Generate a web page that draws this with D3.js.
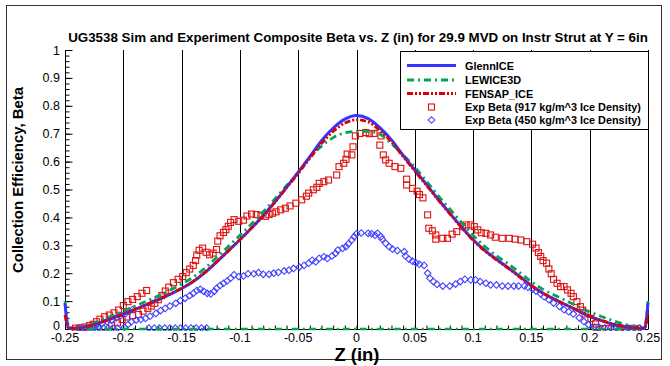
<!DOCTYPE html>
<html>
<head>
<meta charset="utf-8">
<script src="https://cdn.jsdelivr.net/npm/d3@7"></script>
<style>
  html, body { margin: 0; padding: 0; background: #fff; }
  svg { display: block; font-family: "Liberation Sans", Arial, Helvetica, sans-serif; }
</style>
</head>
<body>
<svg id="chart" width="670" height="366"></svg>
<script>
// Simulation grid (Z, inches) shared by the three sim curves
const simZ = [-0.25, -0.247, -0.24, -0.23, -0.22, -0.21, -0.2, -0.19, -0.18, -0.17, -0.16, -0.15, -0.14, -0.13, -0.12, -0.11, -0.1, -0.09, -0.08, -0.07, -0.06, -0.05, -0.04, -0.03, -0.02, -0.01, 0, 0.01, 0.02, 0.03, 0.04, 0.05, 0.06, 0.07, 0.08, 0.09, 0.1, 0.11, 0.12, 0.13, 0.14, 0.15, 0.16, 0.17, 0.18, 0.19, 0.2, 0.21, 0.22, 0.23, 0.24, 0.247, 0.25];

const glennBeta = [0.092, 0.003, 0.003, 0.010, 0.022, 0.037, 0.053, 0.070, 0.087, 0.105, 0.124, 0.145, 0.170, 0.202, 0.240, 0.280, 0.320, 0.362, 0.406, 0.455, 0.508, 0.562, 0.618, 0.675, 0.720, 0.752, 0.765, 0.754, 0.722, 0.678, 0.622, 0.570, 0.518, 0.465, 0.415, 0.366, 0.320, 0.282, 0.250, 0.220, 0.188, 0.156, 0.128, 0.106, 0.086, 0.065, 0.045, 0.030, 0.017, 0.008, 0.003, 0.002, 0.094];

const lewiceBeta = [0.100, 0.005, 0.005, 0.014, 0.029, 0.046, 0.064, 0.082, 0.100, 0.119, 0.139, 0.161, 0.186, 0.218, 0.256, 0.296, 0.336, 0.377, 0.420, 0.466, 0.514, 0.560, 0.615, 0.655, 0.686, 0.703, 0.708, 0.708, 0.698, 0.664, 0.624, 0.580, 0.530, 0.478, 0.430, 0.382, 0.336, 0.296, 0.263, 0.234, 0.202, 0.170, 0.142, 0.121, 0.101, 0.081, 0.062, 0.045, 0.030, 0.017, 0.008, 0.004, 0.100];

// LEWICE3D also reports a zero-collection segment along the surface
const lewiceZeroZ = [-0.245, 0.245];
const lewiceZeroBeta = [0, 0];

const fensapBeta = [0.050, 0.003, 0.003, 0.010, 0.022, 0.037, 0.054, 0.071, 0.088, 0.106, 0.125, 0.146, 0.171, 0.203, 0.240, 0.280, 0.320, 0.362, 0.406, 0.455, 0.506, 0.558, 0.612, 0.665, 0.708, 0.738, 0.750, 0.742, 0.712, 0.670, 0.618, 0.566, 0.515, 0.463, 0.413, 0.364, 0.318, 0.280, 0.248, 0.218, 0.186, 0.155, 0.128, 0.106, 0.086, 0.066, 0.046, 0.031, 0.018, 0.009, 0.004, 0.003, 0.055];

// Experimental beta, 917 kg/m^3 ice density: [Z, beta]
const exp917 = [
  [-0.241,0.003],[-0.237,0.004],[-0.233,0.007],[-0.229,0.012],[-0.226,0.017],[-0.223,0.026],[-0.220,0.035],[-0.216,0.044],[-0.212,0.050],[-0.208,0.058],[-0.204,0.068],[-0.200,0.084],[-0.196,0.098],[-0.192,0.106],[-0.188,0.116],[-0.184,0.128],[-0.180,0.138],
  [-0.210,0.012],[-0.205,0.022],[-0.201,0.034],[-0.197,0.043],[-0.192,0.048],[-0.187,0.052],[-0.183,0.064],[-0.179,0.074],[-0.176,0.082],[-0.173,0.092],[-0.170,0.105],[-0.167,0.120],[-0.164,0.136],[-0.161,0.150],[-0.157,0.166],[-0.153,0.178],[-0.149,0.188],[-0.146,0.202],[-0.143,0.215],[-0.140,0.228],[-0.138,0.245],[-0.137,0.265],[-0.135,0.282],[-0.132,0.290],[-0.129,0.275],[-0.126,0.266],[-0.123,0.272],[-0.120,0.285],[-0.119,0.315],[-0.117,0.334],[-0.114,0.346],[-0.112,0.356],[-0.110,0.368],[-0.108,0.382],[-0.105,0.392],[-0.101,0.386],[-0.097,0.390],[-0.094,0.405],[-0.090,0.412],[-0.086,0.410],[-0.082,0.408],[-0.078,0.404],[-0.075,0.410],[-0.072,0.415],[-0.069,0.420],[-0.065,0.427],[-0.061,0.433],[-0.057,0.441],[-0.052,0.451],[-0.047,0.463],[-0.043,0.476],[-0.041,0.487],[-0.037,0.499],[-0.034,0.508],[-0.032,0.522],[-0.028,0.528],[-0.024,0.534],[-0.017,0.552],[-0.015,0.582],[-0.011,0.594],[-0.009,0.608],[-0.008,0.627],[-0.004,0.624],[-0.003,0.653],[-0.001,0.692],[0.003,0.701],[0.008,0.704],[0.011,0.700],[0.015,0.701],[0.021,0.692],[0.020,0.659],[0.023,0.624],[0.025,0.606],[0.028,0.594],[0.033,0.582],[0.038,0.576],[0.043,0.537],[0.043,0.516],[0.048,0.504],[0.052,0.494],[0.054,0.482],[0.057,0.470],[0.061,0.409],[0.062,0.361],[0.065,0.352],[0.068,0.337],[0.068,0.322],[0.074,0.325],[0.078,0.325],[0.082,0.340],[0.086,0.349],[0.091,0.367],[0.094,0.373],[0.098,0.373],[0.101,0.367],[0.104,0.355],[0.107,0.345],[0.111,0.343],[0.115,0.337],[0.119,0.329],[0.125,0.325],[0.131,0.325],[0.136,0.322],[0.141,0.319],[0.146,0.313],[0.151,0.304],[0.154,0.290],[0.156,0.274],[0.158,0.260],[0.160,0.245],[0.163,0.236],[0.165,0.215],[0.167,0.198],[0.169,0.178],[0.172,0.164],[0.175,0.152],[0.178,0.152],[0.181,0.140],[0.184,0.128],[0.186,0.116],[0.189,0.098],[0.192,0.080],[0.194,0.068],[0.196,0.054],[0.201,0.038],[0.205,0.018],[0.206,0.006],[0.211,0.002],[0.216,0.002],[0.221,0.002],[0.226,0.002],[0.231,0.002],[0.236,0.002],[0.241,0.002]
];

// Experimental beta, 450 kg/m^3 ice density: [Z, beta]
const exp450 = [
  [-0.237,0.003],[-0.233,0.003],[-0.229,0.003],[-0.225,0.003],[-0.221,0.003],[-0.217,0.003],[-0.213,0.003],[-0.209,0.003],[-0.205,0.003],
  [-0.227,0.008],[-0.223,0.014],[-0.218,0.020],[-0.214,0.026],[-0.210,0.032],[-0.206,0.040],[-0.202,0.048],[-0.198,0.056],[-0.195,0.064],[-0.192,0.070],
  [-0.178,0.003],[-0.1735,0.003],[-0.169,0.003],[-0.1645,0.003],[-0.160,0.003],[-0.1555,0.003],[-0.151,0.003],[-0.1465,0.003],[-0.142,0.003],[-0.1375,0.003],[-0.133,0.003],[-0.1285,0.003],
  [-0.199,0.006],[-0.196,0.016],[-0.193,0.026],[-0.189,0.032],[-0.185,0.034],[-0.181,0.038],[-0.177,0.046],[-0.172,0.056],[-0.168,0.066],[-0.164,0.074],[-0.160,0.082],[-0.155,0.092],[-0.151,0.102],[-0.147,0.110],[-0.143,0.120],[-0.140,0.128],[-0.137,0.138],[-0.134,0.142],[-0.131,0.135],[-0.128,0.128],[-0.125,0.126],[-0.122,0.135],[-0.120,0.146],[-0.117,0.156],[-0.114,0.164],[-0.111,0.172],[-0.108,0.182],[-0.105,0.194],[-0.101,0.188],[-0.097,0.190],[-0.093,0.198],[-0.088,0.198],[-0.084,0.202],[-0.080,0.196],[-0.075,0.196],[-0.071,0.200],[-0.067,0.203],[-0.062,0.208],[-0.058,0.211],[-0.054,0.217],[-0.049,0.222],[-0.045,0.228],[-0.041,0.236],[-0.038,0.246],[-0.035,0.241],[-0.032,0.253],[-0.028,0.259],[-0.025,0.253],[-0.021,0.262],[-0.018,0.271],[-0.016,0.283],[-0.012,0.289],[-0.009,0.295],[-0.007,0.305],[-0.004,0.319],[-0.002,0.331],[0.000,0.341],[0.004,0.344],[0.010,0.343],[0.013,0.341],[0.016,0.336],[0.018,0.343],[0.021,0.331],[0.022,0.322],[0.025,0.307],[0.028,0.295],[0.031,0.286],[0.035,0.281],[0.041,0.277],[0.042,0.262],[0.045,0.250],[0.048,0.243],[0.051,0.237],[0.054,0.232],[0.058,0.228],[0.061,0.200],[0.063,0.182],[0.066,0.170],[0.069,0.160],[0.074,0.154],[0.080,0.154],[0.085,0.161],[0.089,0.170],[0.093,0.178],[0.098,0.176],[0.102,0.176],[0.106,0.170],[0.111,0.164],[0.115,0.158],[0.120,0.158],[0.125,0.154],[0.130,0.154],[0.135,0.154],[0.139,0.154],[0.144,0.154],[0.147,0.150],[0.151,0.143],[0.154,0.136],[0.158,0.126],[0.161,0.116],[0.165,0.105],[0.169,0.093],[0.174,0.081],[0.178,0.069],[0.182,0.062],[0.186,0.054],[0.191,0.040],[0.195,0.027],[0.199,0.015],[0.204,0.006],[0.208,0.003],[0.213,0.003],[0.218,0.003],[0.223,0.003],[0.228,0.003],[0.233,0.003],[0.238,0.003],[0.243,0.003]
];

// Axis ticks
const xMajorTicks = [-0.25, -0.2, -0.15, -0.1, -0.05, 0, 0.05, 0.1, 0.15, 0.2, 0.25];
const xTickLabels = ["-0.25", "-0.2", "-0.15", "-0.1", "-0.05", "0", "0.05", "0.1", "0.15", "0.2", "0.25"];
const yMajorTicks = [0, 0.1, 0.2, 0.3, 0.4, 0.5, 0.6, 0.7, 0.8, 0.9, 1];
const yTickLabels = ["0", "0.1", "0.2", "0.3", "0.4", "0.5", "0.6", "0.7", "0.8", "0.9", "1"];

const titleText = "UG3538 Sim and Experiment Composite Beta vs. Z (in) for 29.9 MVD on Instr Strut at Y = 6in";
const xLabel = "Z (in)";
const yLabel = "Collection Efficiency, Beta";
const legendNames = ["GlennICE", "LEWICE3D", "FENSAP_ICE", "Exp Beta (917 kg/m^3 Ice Density)", "Exp Beta (450 kg/m^3 Ice Density)"];

// Styling
const BLUE = "#3535ff", GREEN = "#00a651", RED = "#dd0000";
const SQ_COLOR = "#dd1111", DI_COLOR = "#4444ff";

const svg = d3.select("#chart");
const plot = { left: 65, right: 648, top: 50, bottom: 329 };

const x = d3.scaleLinear().domain([-0.25, 0.25]).range([plot.left, plot.right]);
const y = d3.scaleLinear().domain([0, 1]).range([plot.bottom, plot.top]);

// Outer frame
svg.append("rect")
  .attr("x", 6.5).attr("y", 5.5).attr("width", 655).attr("height", 354)
  .attr("fill", "none").attr("stroke", "#333").attr("stroke-width", 1);

// Vertical grid lines at the major Z ticks
svg.append("g").selectAll("line").data(xMajorTicks.slice(1)).join("line")
  .attr("x1", d => Math.round(x(d)) + 0.5).attr("x2", d => Math.round(x(d)) + 0.5)
  .attr("y1", plot.top).attr("y2", plot.bottom)
  .attr("stroke", "#000").attr("stroke-width", 1);

// Bottom axis (minor ticks inward, labels below)
const xAxis = d3.axisBottom(x)
  .tickValues(d3.range(-25, 26).map(v => v / 100))
  .tickSize(-4).tickFormat("");
const gx = svg.append("g").attr("transform", `translate(0,${plot.bottom + 0.5})`).call(xAxis);
gx.select(".domain").attr("d", `M${plot.left},0H${plot.right}`).attr("stroke", "#000");
gx.selectAll(".tick line").attr("stroke", "#000");

svg.append("g").selectAll("text").data(xMajorTicks).join("text")
  .attr("x", d => x(d)).attr("y", 342)
  .attr("text-anchor", "middle")
  .attr("font-size", 12.5).attr("fill", "#000")
  .text((d, i) => xTickLabels[i]);

// Left axis (major and minor ticks pointing into the plot)
const yMinor = d3.axisLeft(y).tickValues(d3.range(0, 51).map(v => v / 50)).tickSize(-4).tickFormat("");
const gyMinor = svg.append("g").attr("transform", `translate(${plot.left + 0.5},0)`).call(yMinor);
gyMinor.select(".domain").remove();
gyMinor.selectAll(".tick line").attr("stroke", "#000");

const yMajor = d3.axisLeft(y).tickValues(yMajorTicks).tickSize(-7).tickFormat("");
const gy = svg.append("g").attr("transform", `translate(${plot.left + 0.5},0)`).call(yMajor);
gy.select(".domain").attr("d", `M0,${plot.top}V${plot.bottom}`).attr("stroke", "#000");
gy.selectAll(".tick line").attr("stroke", "#000");

svg.append("g").selectAll("text").data(yMajorTicks).join("text")
  .attr("x", 60)
  .attr("y", d => y(d) + 4.5 - (d === 0 ? 4 : 0))
  .attr("text-anchor", "end")
  .attr("font-size", 12.5).attr("fill", "#000")
  .text((d, i) => yTickLabels[i]);

// Plot clip for data marks
svg.append("clipPath").attr("id", "plotClip").append("rect")
  .attr("x", plot.left - 3).attr("y", plot.top - 3)
  .attr("width", plot.right - plot.left + 6).attr("height", plot.bottom - plot.top + 5);

const line = d3.line().x(d => x(d[0])).y(d => y(d[1])).curve(d3.curveMonotoneX);
const zip = (zs, bs) => zs.map((z, i) => [z, bs[i]]);

const curves = svg.append("g").attr("clip-path", "url(#plotClip)");

// Experimental markers
const squareSize = 6;
curves.append("g").selectAll("rect").data(exp917).join("rect")
  .attr("x", d => x(d[0]) - squareSize / 2).attr("y", d => y(d[1]) - squareSize / 2)
  .attr("width", squareSize).attr("height", squareSize)
  .attr("fill", "none").attr("stroke", SQ_COLOR).attr("stroke-width", 1.1);

curves.append("g").selectAll("path").data(exp450).join("path")
  .attr("transform", d => `translate(${x(d[0])},${y(d[1])}) rotate(45)`)
  .attr("d", d3.symbol().type(d3.symbolSquare).size(22))
  .attr("fill", "none").attr("stroke", DI_COLOR).attr("stroke-width", 1.1);

// Sim curves
curves.append("path").datum(zip(lewiceZeroZ, lewiceZeroBeta))
  .attr("d", d3.line().x(d => x(d[0])).y(d => y(d[1])))
  .attr("fill", "none").attr("stroke", GREEN).attr("stroke-width", 2.5)
  .attr("stroke-dasharray", "7,4,2,4");

curves.append("path").datum(zip(simZ, lewiceBeta))
  .attr("d", line).attr("fill", "none").attr("stroke", GREEN)
  .attr("stroke-width", 2.8).attr("stroke-dasharray", "7,4,2,4");

curves.append("path").datum(zip(simZ, glennBeta))
  .attr("d", line).attr("fill", "none").attr("stroke", BLUE)
  .attr("stroke-width", 3);

curves.append("path").datum(zip(simZ, fensapBeta))
  .attr("d", line).attr("fill", "none").attr("stroke", RED)
  .attr("stroke-width", 2.8).attr("stroke-dasharray", "6,2,2,2,2,2");

// Title
const fitWidth = (sel, target) => {
  const w = sel.node().getComputedTextLength();
  const fs = parseFloat(sel.attr("font-size"));
  sel.attr("font-size", (fs * target / w).toFixed(2));
};
const title = svg.append("text")
  .attr("x", 358).attr("y", 42).attr("text-anchor", "middle")
  .attr("font-weight", "bold").attr("font-size", 12.5).attr("fill", "#000")
  .text(titleText);
fitWidth(title, 580);

// Axis titles
const xl = svg.append("text").attr("x", 357).attr("y", 361).attr("text-anchor", "middle")
  .attr("font-weight", "bold").attr("font-size", 15).attr("fill", "#000").text(xLabel);
fitWidth(xl, 45);

const yl = svg.append("text")
  .attr("transform", `translate(23,180) rotate(-90)`)
  .attr("text-anchor", "middle")
  .attr("font-weight", "bold").attr("font-size", 15).attr("fill", "#000").text(yLabel);
fitWidth(yl, 186);

// Legend
const lg = svg.append("g");
lg.append("rect").attr("x", 400.5).attr("y", 51.5).attr("width", 248).attr("height", 78)
  .attr("fill", "#fff").attr("stroke", "#000").attr("stroke-width", 1);

const rowY = [65.5, 80, 93.5, 107, 120];
const styles = [
  { kind: "line", color: BLUE, dash: null, w: 3 },
  { kind: "line", color: GREEN, dash: "7,4,2,4", w: 2.8 },
  { kind: "line", color: RED, dash: "6,2,2,2,2,2", w: 2.8 },
  { kind: "square", color: SQ_COLOR },
  { kind: "diamond", color: DI_COLOR }
];
styles.forEach((s, i) => {
  const cy = rowY[i];
  if (s.kind === "line") {
    lg.append("line").attr("x1", 407).attr("x2", 456).attr("y1", cy).attr("y2", cy)
      .attr("stroke", s.color).attr("stroke-width", s.w)
      .attr("stroke-dasharray", s.dash);
  } else if (s.kind === "square") {
    lg.append("rect").attr("x", 431.5 - squareSize / 2).attr("y", cy - squareSize / 2)
      .attr("width", squareSize).attr("height", squareSize)
      .attr("fill", "none").attr("stroke", s.color).attr("stroke-width", 1.1);
  } else {
    lg.append("path").attr("transform", `translate(431.5,${cy}) rotate(45)`)
      .attr("d", d3.symbol().type(d3.symbolSquare).size(22))
      .attr("fill", "none").attr("stroke", s.color).attr("stroke-width", 1.1);
  }
  lg.append("text").attr("x", 465).attr("y", cy + 4)
    .attr("font-weight", "bold").attr("font-size", 10.5).attr("fill", "#000")
    .text(legendNames[i]);
});
const longest = lg.selectAll("text").filter((d, i) => i === 3);
const scaleLegend = 176 / longest.node().getComputedTextLength();
lg.selectAll("text").attr("font-size", (10.5 * scaleLegend).toFixed(2));
</script>
</body>
</html>
